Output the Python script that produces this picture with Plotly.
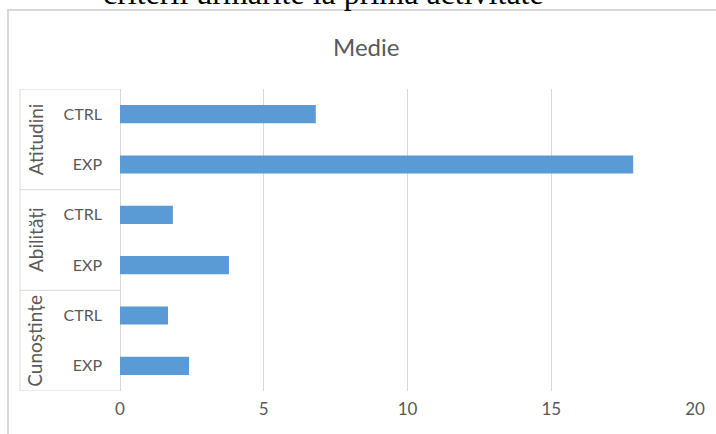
import plotly.graph_objects as go

# Data (bottom to top)
groups = ["Cunoștințe", "Cunoștințe", "Abilități", "Abilități", "Atitudini", "Atitudini"]
subs = ["EXP", "CTRL", "EXP", "CTRL", "EXP", "CTRL"]
values = [2.4, 1.67, 3.79, 1.84, 17.85, 6.81]
group_names = ["Cunoștințe", "Abilități", "Atitudini"]
x_ticks = [0, 5, 10, 15, 20]

cats = [f"{g}|{s}" for g, s in zip(groups, subs)]

TXT = "#595959"
GRID = "#D9D9D9"
FONT = "Lato"

fig = go.Figure(go.Bar(
    x=values, y=cats, orientation="h",
    marker=dict(color="#5B9BD5", line=dict(width=0)),
    width=0.36,
))

W, H = 716, 434
L, R, T, B = 120, 21, 89, 43
pw, ph = W - L - R, H - T - B

def px_x(px):
    return (px - L) / pw

def px_y(py):
    return 1 + (T - py) / ph

shapes = []
# outer chart border
shapes.append(dict(type="rect", xref="paper", yref="paper",
                   x0=px_x(8), x1=px_x(740), y0=px_y(460), y1=px_y(10),
                   line=dict(color=GRID, width=2), layer="below"))
# label box
bx = px_x(20)
shapes.append(dict(type="line", xref="paper", yref="y", x0=bx, x1=bx, y0=-0.5, y1=len(cats) - 0.5,
                   line=dict(color=GRID, width=1)))
for k in range(len(group_names) + 1):
    yy = -0.5 + 2 * k
    shapes.append(dict(type="line", xref="paper", yref="y", x0=bx, x1=0, y0=yy, y1=yy,
                       line=dict(color=GRID, width=1)))

annotations = []
for i, g in enumerate(group_names):
    annotations.append(dict(text=g, xref="paper", yref="y", x=px_x(35), y=2 * i + 0.5,
                            showarrow=False, textangle=-90, xanchor="center", yanchor="middle",
                            font=dict(family=FONT, size=19, color=TXT)))
annotations.append(dict(text="Medie", xref="paper", yref="paper", x=px_x(366), y=px_y(47),
                        showarrow=False, font=dict(family=FONT, size=24, color=TXT),
                        xanchor="center", yanchor="middle"))
annotations.append(dict(text="criterii urmărite la prima activitate", xref="paper", yref="paper",
                        x=px_x(323), y=px_y(13), showarrow=False,
                        font=dict(family="Liberation Serif", size=32, color="#000000"),
                        xanchor="center", yanchor="bottom"))

fig.update_layout(
    width=W, height=H,
    margin=dict(l=L, r=R, t=T, b=B, pad=0),
    paper_bgcolor="white", plot_bgcolor="white",
    showlegend=False,
    shapes=shapes, annotations=annotations,
    xaxis=dict(range=[0, 20], tickvals=x_ticks, showgrid=True, gridcolor=GRID, gridwidth=1,
               zeroline=True, zerolinecolor=GRID, zerolinewidth=1, showline=False,
               tickfont=dict(family=FONT, size=17, color=TXT), ticks="", ticklabelstandoff=6,
               fixedrange=True),
    yaxis=dict(type="category", categoryorder="array", categoryarray=cats,
               range=[-0.5, len(cats) - 0.5],
               tickvals=cats, ticktext=subs, showgrid=False, zeroline=False, showline=False,
               ticks="", ticklabelstandoff=17,
               tickfont=dict(family=FONT, size=16, color=TXT), fixedrange=True),
)

fig.write_html("out.html")
